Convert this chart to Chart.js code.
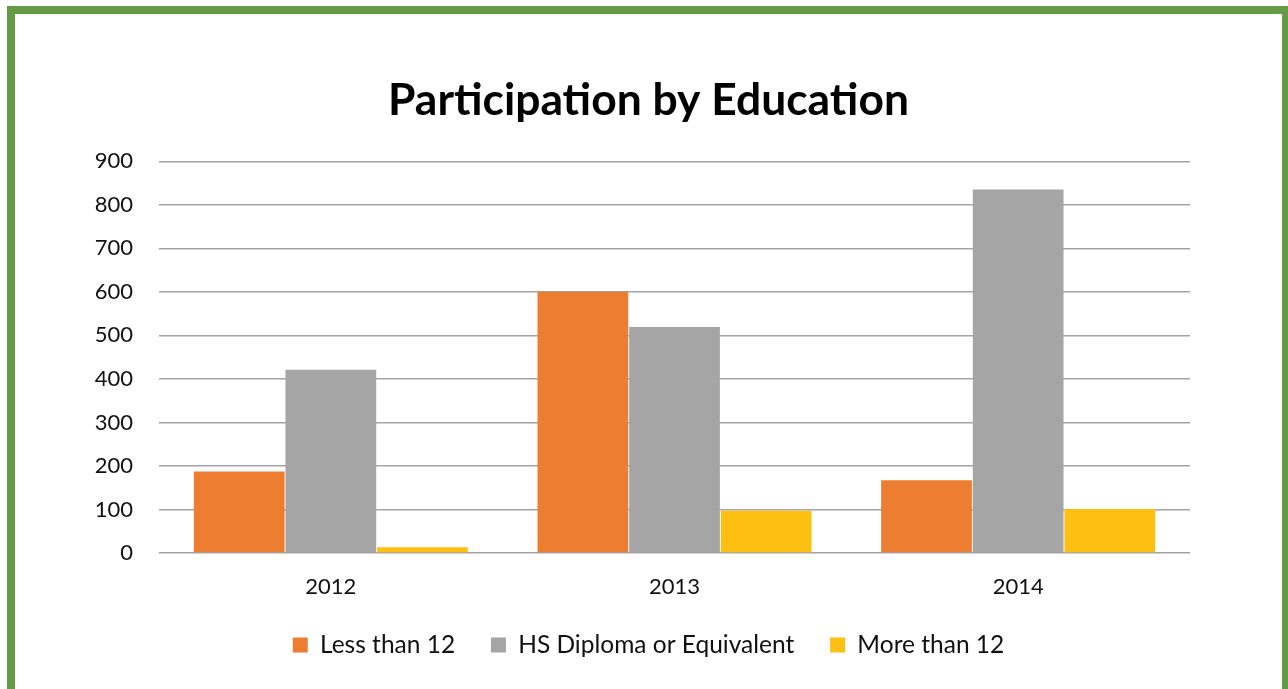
<!DOCTYPE html>
<html>
<head>
<meta charset="utf-8">
<script src="https://cdn.jsdelivr.net/npm/chart.js@4"></script>
<style>
  html, body { margin: 0; padding: 0; background: #ffffff; overflow: hidden; width: 1288px; height: 689px; }
  #frame { position: absolute; left: 7px; top: 6px; width: 1267px; height: 700px;
           border: 8px solid #659B44; border-bottom: none; background: #fff; }
  #wrap { position: absolute; left: 0; top: 0; width: 1267px; height: 675px; }
</style>
</head>
<body>
<div id="frame"><div id="wrap"><canvas id="c"></canvas></div></div>
<script>
const categories = ['2012', '2013', '2014'];
const seriesNames = ['Less than 12', 'HS Diploma or Equivalent', 'More than 12'];
const lessThan12 = [187, 600, 167];
const hsDiploma = [421, 519, 835];
const moreThan12 = [13, 97, 101];
const yTicks = [0, 100, 200, 300, 400, 500, 600, 700, 800, 900];

const FONT = 'Lato, "Open Sans", sans-serif';

new Chart(document.getElementById('c'), {
  type: 'bar',
  data: {
    labels: categories,
    datasets: [
      { label: seriesNames[0], data: lessThan12, backgroundColor: '#ED7D31' },
      { label: seriesNames[1], data: hsDiploma, backgroundColor: '#A5A5A5' },
      { label: seriesNames[2], data: moreThan12, backgroundColor: '#FDBF12' }
    ]
  },
  options: {
    responsive: true,
    maintainAspectRatio: false,
    animation: false,
    devicePixelRatio: 1,
    datasets: { bar: { categoryPercentage: 0.8, barPercentage: 0.99, borderWidth: 0 } },
    layout: { padding: { left: 0, right: 0, top: 0, bottom: 21.75 } },
    plugins: {
      title: {
        display: true,
        text: 'Participation by Education',
        color: '#000',
        font: { family: FONT, size: 44.4, weight: 'bold' },
        padding: { top: 60, bottom: 34 }
      },
      legend: {
        position: 'bottom',
        labels: {
          color: '#111',
          font: { family: FONT, size: 24.5 },
          boxWidth: 15, boxHeight: 15,
          padding: 35.85
        }
      },
      tooltip: { enabled: false }
    },
    scales: {
      x: {
        grid: { display: false, drawTicks: false },
        border: { display: false },
        ticks: { color: '#111', font: { family: FONT, size: 22, lineHeight: 0.9 }, padding: 24.1 },
        afterFit: (s) => { s.height = 43.9; }
      },
      y: {
        min: 0, max: 900,
        afterBuildTicks: (s) => { s.ticks = yTicks.map(v => ({ value: v })); },
        afterFit: (s) => { s.width = 144; },
        grid: { color: '#A3A3A3', lineWidth: 1.5, drawTicks: false },
        border: { display: false },
        ticks: { color: '#111', font: { family: FONT, size: 22 }, padding: 26 }
      },
      yRight: {
        type: 'linear',
        position: 'right',
        min: 0, max: 900,
        grid: { display: false, drawTicks: false },
        border: { display: false },
        ticks: { display: false },
        afterFit: (s) => { s.width = 92; }
      }
    }
  }
});
</script>
</body>
</html>
